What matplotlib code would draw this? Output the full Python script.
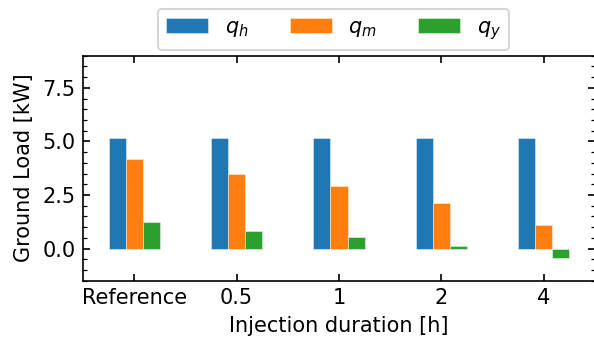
import matplotlib
matplotlib.use("Agg")
import matplotlib.pyplot as plt
import numpy as np
from matplotlib.ticker import MultipleLocator

categories = ["Reference", "0.5", "1", "2", "4"]
q_h = [5.14, 5.14, 5.14, 5.14, 5.14]
q_m = [4.20, 3.47, 2.90, 2.12, 1.09]
q_y = [1.22, 0.81, 0.52, 0.11, -0.44]
labels = ["$q_h$", "$q_m$", "$q_y$"]
colors = ["#1f77b4", "#ff7f0e", "#2ca02c"]

plt.rcParams["font.size"] = 10
fig = plt.figure(figsize=(5.94 / 1.5, 3.41 / 1.5), dpi=150)
ax = fig.add_axes([0.1397, 0.1768, 0.862, 0.66])

x = np.arange(len(categories))
w = 1 / 6
for i, (vals, lab, c) in enumerate(zip([q_h, q_m, q_y], labels, colors)):
    ax.bar(x + (i - 1) * w, vals, width=w, color=c, label=lab,
           edgecolor=(1, 1, 1, 0.5), linewidth=0.4)

ax.set_xticks(x)
ax.set_xticklabels(categories)
ax.set_xlim(-0.5, 4.5)
ax.set_ylim(-1.5, 9)
ax.yaxis.set_major_locator(MultipleLocator(2.5))
ax.yaxis.set_minor_locator(MultipleLocator(0.5))
ax.tick_params(axis="both", which="both", direction="in", top=True, right=True)
ax.tick_params(axis="x", which="minor", top=False, bottom=False)
ax.set_ylabel("Ground Load [kW]")
ax.set_xlabel("Injection duration [h]")

fig.legend(loc="upper center", ncol=3, bbox_to_anchor=(0.5615, 1.005))
fig.savefig("out.png", dpi=150)
